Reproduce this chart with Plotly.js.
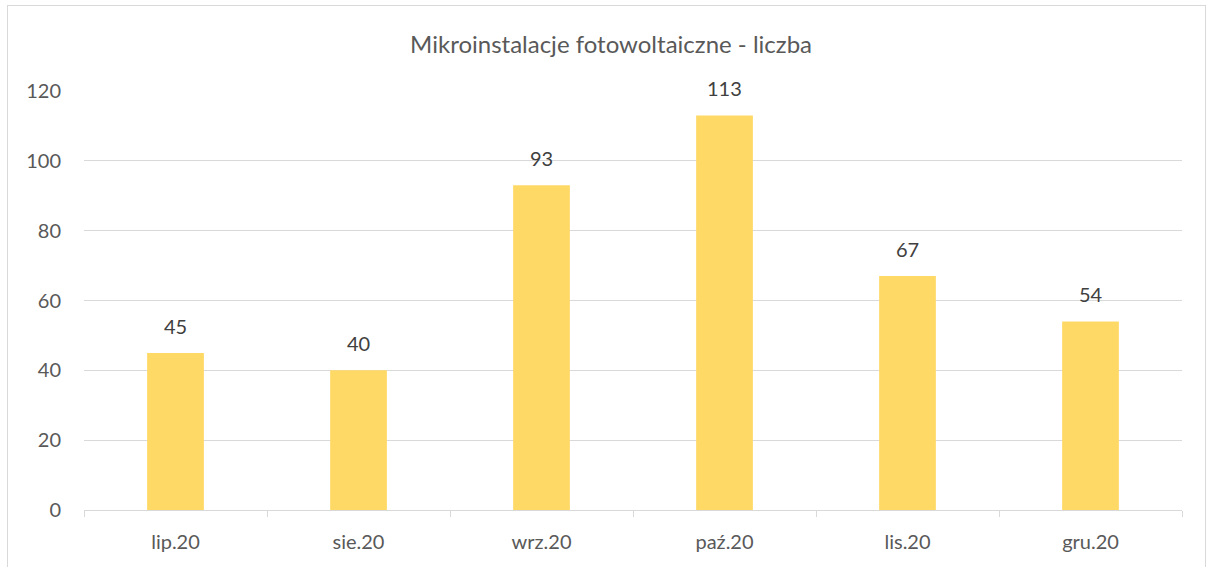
<!DOCTYPE html>
<html><head><meta charset="utf-8">
<script src="https://cdn.plot.ly/plotly-3.0.1.min.js"></script>
<style>
html,body{margin:0;padding:0;background:#fff;}
#chart{width:1210px;height:567px;position:absolute;left:0;top:0;}
#frame{position:absolute;left:7px;top:5px;width:1197px;height:570px;border:1px solid #d9d9d9;pointer-events:none;}
</style></head>
<body>
<div id="chart"></div>
<div id="frame"></div>
<script>
const categories = ["lip.20","sie.20","wrz.20","paź.20","lis.20","gru.20"];
const values = [45, 40, 93, 113, 67, 54];
const yTicks = [0,20,40,60,80,100,120];
const titleText = "Mikroinstalacje fotowoltaiczne - liczba";

const fontFam = "Lato, 'Open Sans', sans-serif";
const labels = categories.map((c, i) => ({
  x: c, y: values[i], xref: 'x', yref: 'y',
  text: String(values[i]), showarrow: false,
  yanchor: 'bottom', yshift: 13,
  font: {family: fontFam, size: 20, color: '#404040'}
}));
Plotly.newPlot('chart', [{
  type: 'bar',
  x: categories,
  y: values,
  marker: {color: '#FFD966'},
  hoverinfo: 'none'
}], {
  width: 1210, height: 567,
  margin: {l: 84, r: 28, t: 91, b: 57},
  paper_bgcolor: 'rgba(0,0,0,0)', plot_bgcolor: '#fff',
  bargap: 0.69,
  showlegend: false,
  annotations: labels,
  title: {text: titleText, x: 0.505, xanchor: 'center', y: 0.922, yanchor: 'middle',
          font: {family: fontFam, size: 24, color: '#595959'}},
  xaxis: {
    type: 'category',
    showgrid: false, showline: true, linecolor: '#d9d9d9', linewidth: 1,
    ticks: 'outside', tickson: 'boundaries', ticklen: 6, tickcolor: '#d9d9d9',
    ticklabelstandoff: 14,
    tickfont: {family: fontFam, size: 20, color: '#595959'},
    zeroline: false
  },
  yaxis: {
    range: [0, 120], tickvals: yTicks, ticktext: yTicks.map(String),
    showgrid: true, gridcolor: '#d9d9d9', gridwidth: 1,
    showline: false, zeroline: false, ticks: '',
    ticklabelstandoff: 22,
    tickfont: {family: fontFam, size: 20, color: '#595959'}
  }
}, {displayModeBar: false, staticPlot: true});
</script>
</body></html>
